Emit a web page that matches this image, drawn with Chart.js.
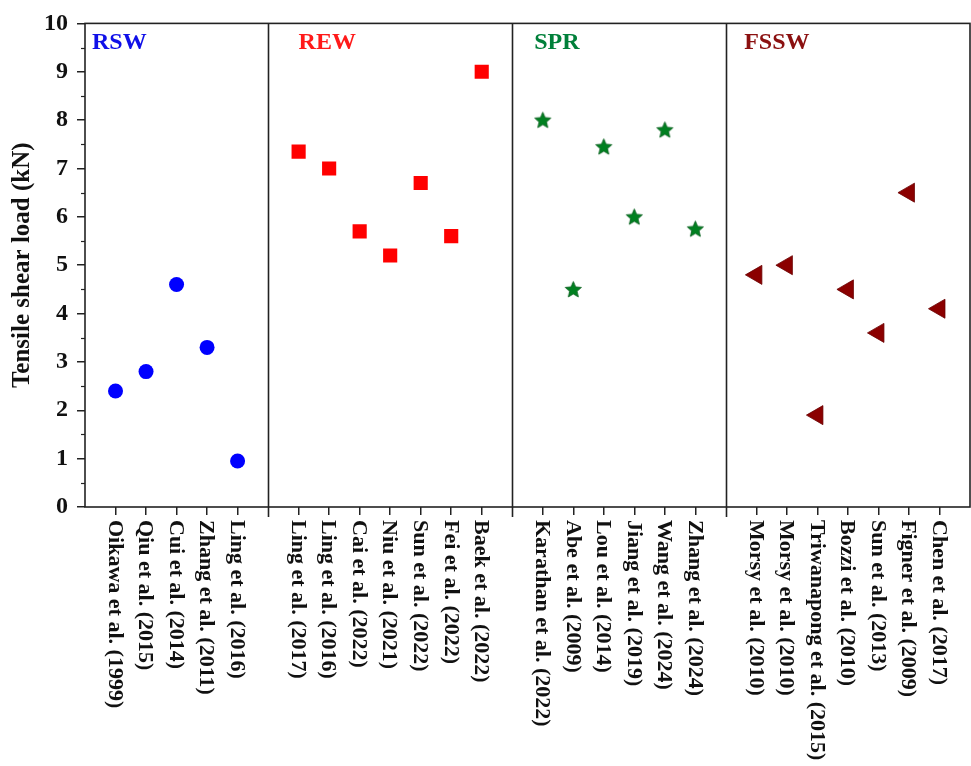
<!DOCTYPE html>
<html>
<head>
<meta charset="utf-8">
<title>Tensile shear load by joining process</title>
<script src="https://cdn.jsdelivr.net/npm/chart.js@4.4.1/dist/chart.umd.min.js"></script>
<style>
  html, body { margin: 0; padding: 0; background: #ffffff; overflow: hidden; }
  #wrap { width: 971px; height: 766px; position: relative; }
  #chart { display: block; }
</style>
</head>
<body>
<div id="wrap"><canvas id="chart"></canvas></div>
<script>
// Study references and tensile shear loads (kN), grouped by joining process
const groupNames = ['RSW', 'REW', 'SPR', 'FSSW'];

const rswStudies = ['Oikawa et al. (1999)', 'Qiu et al. (2015)', 'Cui et al. (2014)', 'Zhang et al. (2011)', 'Ling et al. (2016)'];
const rswLoads = [2.4, 2.8, 4.6, 3.3, 0.95];

const rewStudies = ['Ling et al. (2017)', 'Ling et al. (2016)', 'Cai et al. (2022)', 'Niu et al. (2021)', 'Sun et al. (2022)', 'Fei et al. (2022)', 'Baek et al. (2022)'];
const rewLoads = [7.35, 7.0, 5.7, 5.2, 6.7, 5.6, 9.0];

const sprStudies = ['Karathan et al. (2022)', 'Abe et al. (2009)', 'Lou et al. (2014)', 'Jiang et al. (2019)', 'Wang et al. (2024)', 'Zhang et al. (2024)'];
const sprLoads = [8.0, 4.5, 7.45, 6.0, 7.8, 5.75];

const fsswStudies = ['Morsy et al. (2010)', 'Morsy et al. (2010)', 'Triwanapong et al. (2015)', 'Bozzi et al. (2010)', 'Sun et al. (2013)', 'Figner et al. (2009)', 'Chen et al. (2017)'];
const fsswLoads = [4.8, 5.0, 1.9, 4.5, 3.6, 6.5, 4.1];

const yTickValues = [0, 1, 2, 3, 4, 5, 6, 7, 8, 9, 10];

// Styling
const FONT = '"Liberation Serif", "Times New Roman", serif';
const AXIS_COLOR = '#222222';
const markerColors = ['#0000ff', '#ff0000', '#008020', '#8b0000'];
const titleColors = ['#1010e8', '#ff1a1a', '#00803a', '#8b1010'];
const titleOffsets = [0.23, 7.0, 14.72, 21.6]; // x positions (axis units) of the group titles

// Five-pointed filled star used as the SPR marker
function makeStar(color, outer, inner) {
  const size = Math.ceil(outer * 2 + 2);
  const cv = document.createElement('canvas');
  cv.width = size; cv.height = size;
  const c = cv.getContext('2d');
  const cx = size / 2, cy = size / 2 + 0.6;
  c.beginPath();
  for (let i = 0; i < 10; i++) {
    const r = i % 2 === 0 ? outer : inner;
    const a = -Math.PI / 2 + i * Math.PI / 5;
    const px = cx + r * Math.cos(a), py = cy + r * Math.sin(a);
    if (i === 0) c.moveTo(px, py); else c.lineTo(px, py);
  }
  c.closePath();
  c.fillStyle = color;
  c.fill();
  c.strokeStyle = '#005a18';
  c.lineWidth = 0.8;
  c.stroke();
  return cv;
}

// Lay the studies out along the x axis, one empty slot between process groups
const groupStudies = [rswStudies, rewStudies, sprStudies, fsswStudies];
const groupLoads = [rswLoads, rewLoads, sprLoads, fsswLoads];
const tickPositions = [];
const tickLabels = [];
const separators = [];
const groupPoints = [];
let pos = 1;
groupStudies.forEach((studies, g) => {
  const pts = [];
  studies.forEach((name, i) => {
    tickPositions.push(pos);
    tickLabels.push(name);
    pts.push({ x: pos, y: groupLoads[g][i] });
    pos++;
  });
  groupPoints.push(pts);
  separators.push(pos);
  pos++;
});
const xMax = separators.pop(); // last slot closes the frame

const starMarker = makeStar(markerColors[2], 8.5, 3.9);

const datasets = [
  { label: groupNames[0], data: groupPoints[0], pointStyle: 'circle', pointRadius: 7.5,
    backgroundColor: markerColors[0], borderColor: markerColors[0], borderWidth: 0 },
  { label: groupNames[1], data: groupPoints[1], pointStyle: 'rect', pointRadius: 10,
    backgroundColor: markerColors[1], borderColor: markerColors[1], borderWidth: 0 },
  { label: groupNames[2], data: groupPoints[2], pointStyle: starMarker, pointRadius: 9,
    backgroundColor: markerColors[2], borderColor: markerColors[2], borderWidth: 0 },
  { label: groupNames[3], data: groupPoints[3], pointStyle: 'triangle', pointRadius: 11, rotation: -90,
    backgroundColor: markerColors[3], borderColor: '#6a0000', borderWidth: 0.8 }
];

const decorations = {
  id: 'decorations',
  beforeDatasetsDraw(chart) {
    const { ctx, chartArea: a, scales: { x, y } } = chart;
    ctx.save();
    ctx.strokeStyle = AXIS_COLOR;
    ctx.lineWidth = 1.6;
    ctx.strokeRect(a.left, a.top, a.right - a.left, a.bottom - a.top);
    // process separators, running slightly below the axis
    separators.forEach(s => {
      const px = Math.round(x.getPixelForValue(s)) + 0.5;
      ctx.beginPath();
      ctx.moveTo(px, a.top);
      ctx.lineTo(px, a.bottom + 10);
      ctx.stroke();
    });
    // minor y ticks
    ctx.lineWidth = 1.2;
    for (let v = 0.5; v < 10; v += 1) {
      const py = Math.round(y.getPixelForValue(v)) + 0.5;
      ctx.beginPath();
      ctx.moveTo(a.left - 4, py);
      ctx.lineTo(a.left, py);
      ctx.stroke();
    }
    // group titles
    ctx.font = 'bold 24px ' + FONT;
    ctx.textAlign = 'left';
    ctx.textBaseline = 'alphabetic';
    groupNames.forEach((n, g) => {
      ctx.fillStyle = titleColors[g];
      ctx.fillText(n, x.getPixelForValue(titleOffsets[g]), a.top + 26);
    });
    ctx.restore();
  },
  afterDraw(chart) {
    const { ctx, chartArea: a, scales: { x } } = chart;
    ctx.save();
    ctx.font = 'bold 22px ' + FONT;
    ctx.fillStyle = '#111111';
    ctx.textAlign = 'left';
    ctx.textBaseline = 'middle';
    tickPositions.forEach((v, i) => {
      ctx.save();
      ctx.translate(x.getPixelForValue(v) - 1, a.bottom + 13);
      ctx.rotate(Math.PI / 2);
      ctx.fillText(tickLabels[i], 0, 0);
      ctx.restore();
    });
    ctx.restore();
  }
};

new Chart(document.getElementById('chart'), {
  type: 'scatter',
  data: { datasets },
  plugins: [decorations],
  options: {
    responsive: true,
    maintainAspectRatio: false,
    animation: false,
    layout: { autoPadding: false, padding: { top: 20, right: 1, left: 0, bottom: 0 } },
    plugins: { legend: { display: false }, tooltip: { enabled: false } },
    scales: {
      x: {
        type: 'linear',
        min: 0,
        max: xMax,
        afterBuildTicks(scale) { scale.ticks = tickPositions.map(v => ({ value: v })); },
        afterFit(scale) { scale.height = 259; },
        border: { display: false },
        grid: { drawOnChartArea: false, drawTicks: true, tickLength: 8, color: AXIS_COLOR, lineWidth: 1.5 },
        ticks: { autoSkip: false, maxRotation: 0, callback: () => '' }
      },
      y: {
        min: 0,
        max: 10,
        afterBuildTicks(scale) { scale.ticks = yTickValues.map(v => ({ value: v })); },
        afterFit(scale) { scale.width = 85; },
        border: { display: false },
        grid: { drawOnChartArea: false, drawTicks: true, tickLength: 8, color: AXIS_COLOR, lineWidth: 1.5 },
        ticks: { color: '#111111', padding: 9, font: { family: FONT, size: 24, weight: 'bold' } },
        title: {
          display: true,
          text: 'Tensile shear load (kN)',
          color: '#111111',
          padding: { top: 8, bottom: 0 },
          font: { family: FONT, size: 25, weight: 'bold' }
        }
      }
    }
  }
});
</script>
</body>
</html>
